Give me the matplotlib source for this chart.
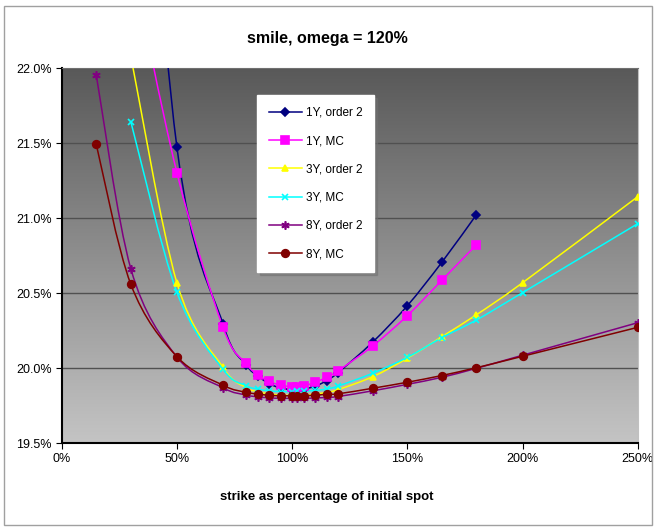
import numpy as np
import matplotlib
matplotlib.use("Agg")
import matplotlib.pyplot as plt
from matplotlib.path import Path
from matplotlib.patches import PathPatch, Rectangle
from matplotlib.lines import Line2D
from matplotlib.ticker import FuncFormatter, MultipleLocator

plt.rcParams['font.family'] = ['Liberation Sans', 'DejaVu Sans']

# strikes in % of initial spot, vols in %
strikes_1y = [30, 50, 70, 80, 85, 90, 95, 100, 102, 105, 110, 115, 120, 135, 150, 165, 180]
vol_1y_order2 = [25.0, 21.475, 20.295, 20.025, 19.950, 19.898, 19.868, 19.858, 19.858, 19.862,
                 19.880, 19.918, 19.972, 20.175, 20.417, 20.707, 21.024]
vol_1y_mc = [22.75, 21.304, 20.273, 20.033, 19.957, 19.913, 19.887, 19.878, 19.877, 19.882,
             19.907, 19.940, 19.984, 20.149, 20.351, 20.587, 20.824]

strikes_3y = [30, 50, 70, 80, 85, 90, 95, 100, 102, 105, 110, 115, 120, 135, 150, 165, 180, 200, 250]
vol_3y_order2 = [22.08, 20.570, 20.006, 19.872, 19.845, 19.830, 19.822, 19.820, 19.820, 19.822,
                 19.828, 19.840, 19.858, 19.944, 20.067, 20.211, 20.357, 20.570, 21.144]
vol_3y_mc = [21.644, 20.507, 19.993, 19.885, 19.862, 19.850, 19.845, 19.845, 19.846, 19.848,
             19.853, 19.862, 19.882, 19.967, 20.073, 20.204, 20.322, 20.504, 20.964]

strikes_8y = [15, 30, 50, 70, 80, 85, 90, 95, 100, 102, 105, 110, 115, 120, 135, 150, 165, 180, 200, 250]
vol_8y_order2 = [21.955, 20.664, 20.075, 19.870, 19.822, 19.810, 19.803, 19.800, 19.800, 19.800,
                 19.800, 19.802, 19.806, 19.812, 19.850, 19.893, 19.940, 20.000, 20.087, 20.304]
vol_8y_mc = [21.493, 20.560, 20.078, 19.887, 19.840, 19.829, 19.820, 19.817, 19.817, 19.817,
             19.818, 19.820, 19.827, 19.830, 19.867, 19.907, 19.952, 20.004, 20.080, 20.273]

series = [
    ("1Y, order 2", strikes_1y, vol_1y_order2, "#000080", "D", 4.0),
    ("1Y, MC", strikes_1y, vol_1y_mc, "#FF00FF", "s", 5.5),
    ("3Y, order 2", strikes_3y, vol_3y_order2, "#FFFF00", "^", 5.0),
    ("3Y, MC", strikes_3y, vol_3y_mc, "#00FFFF", "x", 5.0),
    ("8Y, order 2", strikes_8y, vol_8y_order2, "#800080", (6, 2, 0), 6.0),
    ("8Y, MC", strikes_8y, vol_8y_mc, "#800000", "o", 5.5),
]


# excel-like smoothed line: catmull-rom segments as cubic bezier
def smooth_path(x, y):
    p = np.column_stack([x, y]).astype(float)
    verts = [p[0]]
    codes = [Path.MOVETO]
    n = len(p)
    for i in range(n - 1):
        p0 = p[i - 1] if i > 0 else p[i]
        p3 = p[i + 2] if i + 2 < n else p[i + 1]
        c1 = p[i] + (p[i + 1] - p0) / 6
        c2 = p[i + 1] - (p3 - p[i]) / 6
        verts += [c1, c2, p[i + 1]]
        codes += [Path.CURVE4] * 3
    return Path(verts, codes)


fig = plt.figure(figsize=(6.55, 5.28), dpi=100)
fig.patches.append(Rectangle((4 / 655, 3 / 528), 648 / 655, 519 / 528, transform=fig.transFigure,
                             fill=False, edgecolor="#a0a0a0", lw=1.0))
ax = fig.add_axes([61.7 / 655, 1 - 443.3 / 528, 576 / 655, 375 / 528])

# gradient plot area
grad = np.linspace(0, 1, 256).reshape(-1, 1)
ax.imshow(grad, cmap=matplotlib.colors.LinearSegmentedColormap.from_list("g", ["#595959", "#c4c4c4"]),
          extent=[0, 1, 0, 1], transform=ax.transAxes, aspect="auto", zorder=0, origin="upper")

for label, xs, ys, color, marker, ms in series:
    ax.add_patch(PathPatch(smooth_path(xs, ys), fill=False, edgecolor=color, lw=1.1, zorder=3))
    ax.plot(xs, ys, linestyle="none", marker=marker, color=color, markersize=ms,
            markeredgewidth=1.2, zorder=4)

ax.set_xlim(0, 250)
ax.set_ylim(19.5, 22.0)
ax.xaxis.set_major_locator(MultipleLocator(50))
ax.yaxis.set_major_locator(MultipleLocator(0.5))
ax.xaxis.set_major_formatter(FuncFormatter(lambda v, p: "%d%%" % v))
ax.yaxis.set_major_formatter(FuncFormatter(lambda v, p: "%.1f%%" % v))
ax.grid(axis="y", color="#505050", lw=1.0, zorder=1)
ax.set_axisbelow(True)
ax.tick_params(labelsize=9, length=4, color="black", pad=3)

ax.spines["left"].set_linewidth(1.5)
ax.spines["bottom"].set_linewidth(1.5)
ax.spines["top"].set_color("#707070")
ax.spines["right"].set_color("#c0c0c0")

fig.text(327 / 655, 1 - 38 / 528, "smile, omega = 120%", ha="center", va="center",
         fontsize=11.5, fontweight="bold")
fig.text(327 / 655, 1 - 497 / 528, "strike as percentage of initial spot", ha="center", va="center",
         fontsize=9.5, fontweight="bold")

handles = [Line2D([], [], color=c, marker=m, markersize=ms, lw=1.1, markeredgewidth=1.2)
           for _, _, _, c, m, ms in series]
leg = ax.legend(handles, [s[0] for s in series], loc="upper left",
                bbox_to_anchor=(257 / 655, 1 - 95 / 528), bbox_transform=fig.transFigure,
                borderaxespad=0, fontsize=8.5, labelspacing=1.38, handlelength=2.8,
                handletextpad=0.35, borderpad=1.0, fancybox=False, shadow={"color": "#707070"},
                framealpha=1)
leg.get_frame().set_edgecolor("white")
leg.set_zorder(10)

fig.savefig("out.png", dpi=100)
